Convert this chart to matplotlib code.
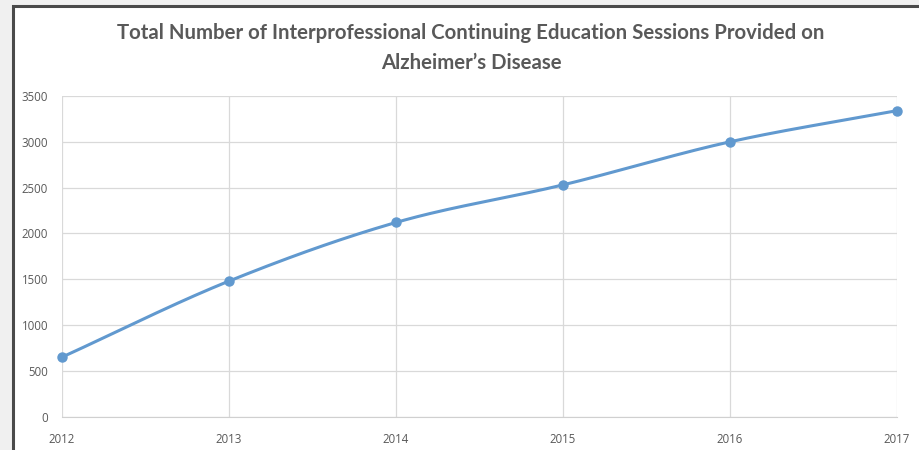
import matplotlib
matplotlib.use('Agg')
import matplotlib.pyplot as plt
from matplotlib.patches import Rectangle
import numpy as np

years = [2012, 2013, 2014, 2015, 2016, 2017]
sessions = [650, 1480, 2120, 2530, 3000, 3340]
y_ticks = [0, 500, 1000, 1500, 2000, 2500, 3000, 3500]
title = "Total Number of Interprofessional Continuing Education Sessions Provided on\nAlzheimer\u2019s Disease"


def smooth_curve(xs, ys, steps=40):
    # Catmull-Rom style smoothing, like a spreadsheet "smoothed line"
    xs = np.asarray(xs, float)
    ys = np.asarray(ys, float)
    px = np.concatenate([[2 * xs[0] - xs[1]], xs, [2 * xs[-1] - xs[-2]]])
    py = np.concatenate([[2 * ys[0] - ys[1]], ys, [2 * ys[-1] - ys[-2]]])
    out_x, out_y = [], []
    t = np.linspace(0, 1, steps)
    for i in range(1, len(px) - 2):
        for arr, out in ((px, out_x), (py, out_y)):
            p0, p1, p2, p3 = arr[i - 1], arr[i], arr[i + 1], arr[i + 2]
            seg = 0.5 * ((2 * p1) + (-p0 + p2) * t
                         + (2 * p0 - 5 * p1 + 4 * p2 - p3) * t ** 2
                         + (-p0 + 3 * p1 - 3 * p2 + p3) * t ** 3)
            out.extend(seg)
    return out_x, out_y


fig = plt.figure(figsize=(9.19, 4.5), dpi=100)
fig.patch.set_facecolor('#f0f0f0')
# chart frame
fig.patches.append(Rectangle((13 / 919, -0.05), 1.0, (450 - 6) / 450 + 0.05,
                             transform=fig.transFigure, facecolor='white',
                             edgecolor='#4a4a4a', linewidth=2.2, zorder=-10))

ax = fig.add_axes([62 / 919, (450 - 416.7) / 450, 835 / 919, 320.7 / 450])
ax.set_facecolor('white')

line_color = '#6199cf'
cx, cy = smooth_curve(years, sessions)
ax.plot(cx, cy, color=line_color, linewidth=2.2, solid_capstyle='round',
        zorder=3, clip_on=False)
ax.plot(years, sessions, 'o', color=line_color, markersize=6.5, zorder=4,
        clip_on=False)

ax.set_xlim(2012, 2017)
ax.set_ylim(0, 3500)
ax.set_xticks(years)
ax.set_yticks(y_ticks)
ax.grid(True, color='#d9d9d9', linewidth=0.9)
ax.set_axisbelow(True)
for side in ['top', 'right', 'left']:
    ax.spines[side].set_visible(False)
ax.spines['bottom'].set_color('#d0d0d0')
ax.tick_params(length=0, labelsize=8.3, labelcolor='#595959')
ax.tick_params(axis='x', pad=12)
ax.tick_params(axis='y', pad=10)
for lab in ax.get_xticklabels() + ax.get_yticklabels():
    lab.set_fontfamily('Open Sans')

fig.text(471 / 919, 1 - 48 / 450, title, ha='center', va='center',
         fontsize=14.7, fontweight='bold', color='#595959', family='Lato',
         linespacing=1.6)

fig.savefig('out.png', dpi=100, facecolor=fig.get_facecolor())
